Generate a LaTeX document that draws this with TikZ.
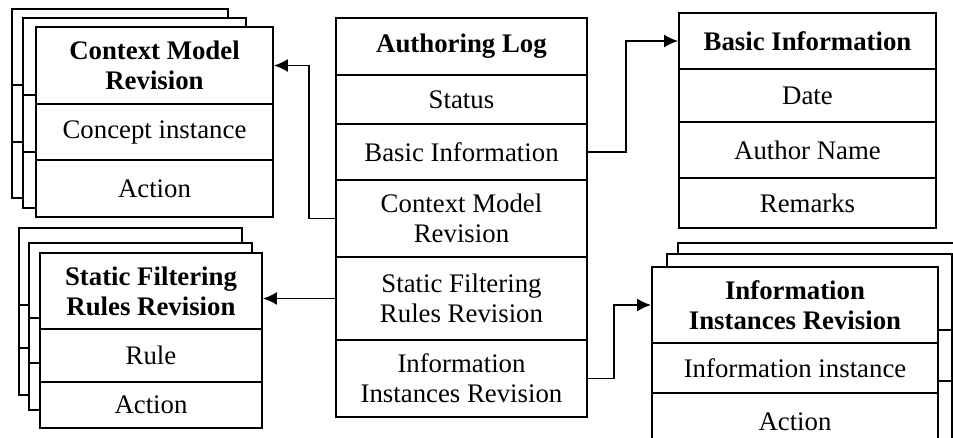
\documentclass[tikz,border=0pt]{standalone}
\usepackage{fontspec}
\setmainfont{Liberation Serif}
\usetikzlibrary{arrows.meta}
\begin{document}
\begin{tikzpicture}[x=0.5pt,y=-0.5pt,
  cell/.style={draw, line width=0.9pt, inner sep=0pt, fill=white, align=center,
    font=\fontsize{13.4}{15}\selectfont},
  hd/.style={cell, font=\fontsize{13.4}{15}\selectfont\bfseries},
  sz/.style 2 args={minimum width=#1*0.5pt, minimum height=#2*0.5pt},
  back/.style={draw, line width=0.9pt, fill=white},
  arr/.style={line width=0.9pt, -{Latex[length=7pt,width=6.5pt]}}]
\useasboundingbox (0,0) rectangle (953,438);
\clip (0,0) rectangle (953,438);

% ---------- Authoring Log (centre)
\node[hd,   sz={251}{57}] (al0) at (461.5,46.5)  {Authoring Log};
\node[cell, sz={251}{49}] (al1) at (461.5,99.5)  {Status};
\node[cell, sz={251}{56}] (al2) at (461.5,152)   {Basic Information};
\node[cell, sz={251}{77}] (al3) at (461.5,218.5) {Context Model\\Revision};
\node[cell, sz={251}{83}] (al4) at (461.5,298.5) {Static Filtering\\Rules Revision};
\node[cell, sz={251}{77}] (al5) at (461.5,378.5) {Information\\Instances Revision};

% ---------- Basic Information (top right)
\node[hd,   sz={257}{56}] (bi0) at (807.5,41)   {Basic Information};
\node[cell, sz={257}{53}] (bi1) at (807.5,95.5) {Date};
\node[cell, sz={257}{56}] (bi2) at (807.5,150)  {Author Name};
\node[cell, sz={257}{50}] (bi3) at (807.5,203)  {Remarks};

% ---------- Context Model Revision (top left, stacked)
\draw[back] (12,9) rectangle (228,198);
\draw[line width=0.9pt] (12,85) -- (228,85) (12,142) -- (228,142);
\draw[back] (23,18) rectangle (246,208);
\draw[line width=0.9pt] (23,95) -- (246,95) (23,152) -- (246,152);
\node[hd,   sz={237}{77}] (cm0) at (154.5,65.5) {Context Model\\Revision};
\node[cell, sz={237}{56}] (cm1) at (154.5,132)  {Concept instance};
\node[cell, sz={237}{57}] (cm2) at (154.5,188.5) {Action};

% ---------- Static Filtering Rules Revision (bottom left, stacked)
\draw[back] (19,228) rectangle (242,395);
\draw[line width=0.9pt] (19,305) -- (242,305) (19,348) -- (242,348);
\draw[back] (29,243) rectangle (252,410);
\draw[line width=0.9pt] (29,318) -- (252,318) (29,363) -- (252,363);
\node[hd,   sz={222}{76}] (sf0) at (151,291)   {Static Filtering\\Rules Revision};
\node[cell, sz={222}{53}] (sf1) at (151,355.5) {Rule};
\node[cell, sz={222}{46}] (sf2) at (151,405)   {Action};

% ---------- Information Instances Revision (bottom right, stacked)
\draw[back] (678,243) rectangle (964,460);
\draw[line width=0.9pt] (678,318) -- (964,318) (678,369) -- (964,369);
\draw[back] (667,254) rectangle (952,455);
\draw[line width=0.9pt] (667,330) -- (952,330) (667,381) -- (952,381);
\node[hd,   sz={286}{76}] (ii0) at (795,305)   {Information\\Instances Revision};
\node[cell, sz={286}{50}] (ii1) at (795,368)   {Information instance};
\node[cell, sz={286}{57}] (ii2) at (795,421.5) {Action};

% ---------- connectors
\draw[arr] (al2.east) -- ++(38,0) |- (bi0.west);
\draw[arr] (al3.west) -- ++(-26,0) |- (cm0.east);
\draw[arr] (al4.west) -- (al4.west -| sf0.east);
\draw[arr] (al5.east) -- ++(26,0) |- (ii0.west);
\end{tikzpicture}
\end{document}
